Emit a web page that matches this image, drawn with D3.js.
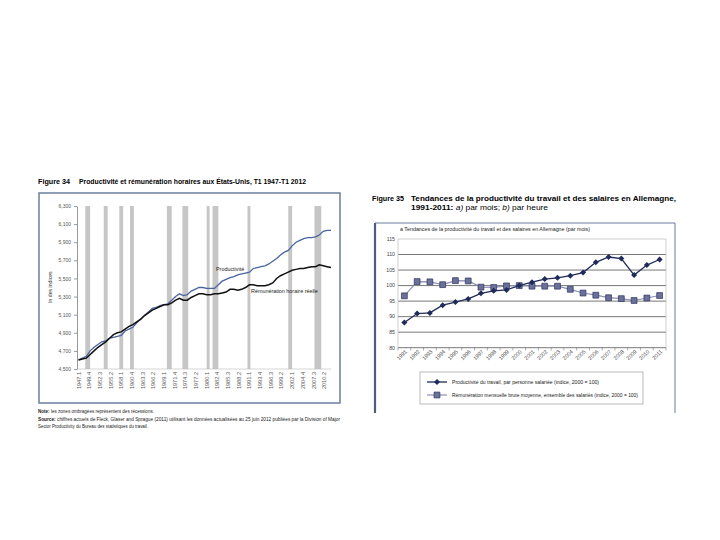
<!DOCTYPE html>
<html><head><meta charset="utf-8">
<script src="https://cdn.jsdelivr.net/npm/d3@7"></script>
<style>body{margin:0;background:#fff} svg{display:block} text{font-family:"Liberation Sans",Arial,sans-serif}</style>
</head><body><svg id="c" width="720" height="540"></svg>
<script>
// ---------- Figure 34 (États-Unis) ----------
const usYears = [1947,1948,1949,1950,1951,1952,1953,1954,1955,1956,1957,1958,1959,1960,1961,1962,1963,1964,1965,1966,1967,1968,1969,1970,1971,1972,1973,1974,1975,1976,1977,1978,1979,1980,1981,1982,1983,1984,1985,1986,1987,1988,1989,1990,1991,1992,1993,1994,1995,1996,1997,1998,1999,2000,2001,2002,2003,2004,2005,2006,2007,2008,2009,2010,2011,2012];
const usProductivity = [4.60,4.62,4.64,4.70,4.74,4.77,4.80,4.81,4.84,4.85,4.86,4.87,4.92,4.94,4.96,5.01,5.05,5.09,5.13,5.17,5.18,5.20,5.21,5.22,5.26,5.30,5.33,5.31,5.32,5.36,5.38,5.40,5.40,5.39,5.39,5.39,5.43,5.47,5.49,5.51,5.52,5.54,5.55,5.56,5.57,5.61,5.62,5.63,5.64,5.66,5.69,5.72,5.76,5.79,5.81,5.86,5.90,5.92,5.94,5.95,5.95,5.96,5.98,6.02,6.03,6.03];
const usCompensation = [4.60,4.61,4.62,4.66,4.70,4.74,4.77,4.80,4.84,4.88,4.90,4.91,4.94,4.97,4.99,5.02,5.05,5.09,5.12,5.15,5.17,5.19,5.21,5.21,5.23,5.26,5.28,5.26,5.26,5.29,5.31,5.33,5.33,5.32,5.32,5.33,5.33,5.34,5.35,5.38,5.38,5.37,5.38,5.40,5.43,5.43,5.42,5.42,5.42,5.43,5.45,5.50,5.53,5.55,5.57,5.59,5.60,5.61,5.61,5.62,5.63,5.63,5.65,5.64,5.63,5.62];
const usTickLabels = ["1947.1","1949.4","1952.3","1955.2","1958.1","1960.4","1963.3","1966.2","1969.1","1971.4","1974.3","1977.2","1980.1","1982.4","1985.3","1988.2","1991.1","1993.4","1996.3","1999.2","2002.1","2004.4","2007.3","2010.2"];
const usYTicks = [4.5,4.7,4.9,5.1,5.3,5.5,5.7,5.9,6.1,6.3];
const usRecessionStart = ["1948.4","1953.3","1957.3","1960.2","1969.4","1973.4","1980.1","1981.3","1990.3","2001.1","2007.4"];
const usRecessionEnd   = ["1949.4","1954.2","1958.2","1961.1","1970.4","1975.1","1980.3","1982.4","1991.1","2001.4","2009.2"];

// ---------- Figure 35 (Allemagne) ----------
const deYears = ["1991","1992","1993","1994","1995","1996","1997","1998","1999","2000","2001","2002","2003","2004","2005","2006","2007","2008","2009","2010","2011"];
const deProductivity = [88.1,91.0,91.2,93.7,94.7,95.7,97.5,98.3,98.6,100.0,101.1,102.1,102.5,103.2,104.2,107.5,109.2,108.7,103.4,106.6,108.4];
const deWages = [96.7,101.3,101.2,100.3,101.6,101.5,99.5,99.4,99.9,100.0,99.8,99.8,99.8,98.8,97.6,96.9,96.1,95.8,95.2,96.0,96.8];
const deYTicks = [80,85,90,95,100,105,110,115];

const svg = d3.select("#c");
const qToNum = s => { const [y,q] = s.split(".").map(Number); return y + (q-1)/4; };
const frFmt = d => d3.format(".3f")(d).replace(".", ",");

// ===== LEFT PANEL =====
const L = svg.append("g");
L.append("text").attr("x",38).attr("y",184).attr("font-size",7.2).attr("font-weight","bold").text("Figure 34");
L.append("text").attr("x",79).attr("y",184).attr("font-size",7.2).attr("font-weight","bold")
 .attr("textLength",227).attr("lengthAdjust","spacingAndGlyphs")
 .text("Productivité et rémunération horaires aux États-Unis, T1 1947-T1 2012");
L.append("rect").attr("x",39).attr("y",193).attr("width",301).attr("height",210)
 .attr("fill","none").attr("stroke","#7486a4").attr("stroke-width",1.6);

const xL = d3.scaleLinear().domain([1947,2012]).range([78.5,331]);
const yL = d3.scaleLinear().domain([4.5,6.3]).range([369,206]);

L.append("g").selectAll("rect").data(usRecessionStart).join("rect")
 .attr("x",(d)=>xL(qToNum(d)))
 .attr("width",(d,i)=>Math.max(1.5, xL(qToNum(usRecessionEnd[i])+0.25)-xL(qToNum(d))))
 .attr("y",yL(6.3)).attr("height",yL(4.5)-yL(6.3)).attr("fill","#c6c6c6");

const axL = L.append("g").attr("transform","translate(77,0)")
 .call(d3.axisLeft(yL).tickValues(usYTicks).tickFormat(frFmt).tickSize(3).tickSizeOuter(0));
axL.select(".domain").attr("stroke","#999");
axL.selectAll(".tick line").attr("stroke","#999");
axL.selectAll("text").attr("font-size",5).attr("fill","#555").attr("font-family","Liberation Sans, Arial, sans-serif");

L.append("line").attr("x1",77).attr("x2",331).attr("y1",369).attr("y2",369).attr("stroke","#bbb").attr("stroke-width",0.6);

L.append("g").selectAll("text").data(usTickLabels).join("text")
 .attr("transform",d=>`translate(${xL(qToNum(d))+2},372) rotate(-90)`)
 .attr("text-anchor","end").attr("font-size",5.6).attr("fill","#555").text(d=>d);

L.append("text").attr("transform","translate(52,287) rotate(-90)").attr("text-anchor","middle")
 .attr("font-size",5.2).attr("fill","#333").text("ln des indices");

const lineL = arr => d3.line().x((d,i)=>xL(usYears[i])).y(d=>yL(d))(arr);
L.append("path").attr("d",lineL(usProductivity)).attr("fill","none").attr("stroke","#4a64a0").attr("stroke-width",1.3);
L.append("path").attr("d",lineL(usCompensation)).attr("fill","none").attr("stroke","#111").attr("stroke-width",1.5);

L.append("text").attr("x",216).attr("y",271).attr("font-size",5.4).attr("fill","#222").text("Productivité");
L.append("text").attr("x",251).attr("y",293).attr("font-size",5.4).attr("fill","#222").text("Rémunération horaire réelle");

const notes = L.append("g").attr("font-size",4.6).attr("fill","#222");
const n1 = notes.append("text").attr("x",38).attr("y",413).attr("textLength",116).attr("lengthAdjust","spacingAndGlyphs");
n1.append("tspan").attr("font-weight","bold").text("Note: ");
n1.append("tspan").text("les zones ombragées représentent des récessions.");
const n2 = notes.append("text").attr("x",38).attr("y",421).attr("textLength",302).attr("lengthAdjust","spacingAndGlyphs");
n2.append("tspan").attr("font-weight","bold").text("Source: ");
n2.append("tspan").text("chiffres actuels de Fleck, Glaser and Sprague (2011) utilisant les données actualisées au 25 juin 2012 publiées par la Division of Major");
notes.append("text").attr("x",38).attr("y",428).attr("textLength",110).attr("lengthAdjust","spacingAndGlyphs")
 .text("Sector Productivity du Bureau des statistiques du travail.");

// ===== RIGHT PANEL =====
const R = svg.append("g");
R.append("text").attr("x",372).attr("y",201).attr("font-size",7.2).attr("font-weight","bold").text("Figure 35");
R.append("text").attr("x",411).attr("y",201).attr("font-size",7.2).attr("font-weight","bold")
 .attr("textLength",265).attr("lengthAdjust","spacingAndGlyphs")
 .text("Tendances de la productivité du travail et des salaires en Allemagne,");
const t2 = R.append("text").attr("x",411).attr("y",210).attr("font-size",7.2)
 .attr("textLength",137).attr("lengthAdjust","spacingAndGlyphs");
t2.append("tspan").attr("font-weight","bold").text("1991-2011: ");
t2.append("tspan").attr("font-style","italic").text("a)");
t2.append("tspan").text(" par mois; ");
t2.append("tspan").attr("font-style","italic").text("b)");
t2.append("tspan").text(" par heure");

R.append("path").attr("d","M375,223 H675 V413").attr("fill","none").attr("stroke","#6d7d9b").attr("stroke-width",1);
R.append("line").attr("x1",375).attr("x2",375).attr("y1",223).attr("y2",413).attr("stroke","#4e5e80").attr("stroke-width",2.2);

R.append("text").attr("x",400).attr("y",231).attr("font-size",4.8).attr("fill","#222")
 .attr("textLength",190).attr("lengthAdjust","spacingAndGlyphs")
 .text("a Tendances de la productivité du travail et des salaires en Allemagne (par mois)");

const xR = d3.scaleBand().domain(deYears).range([398,666]);
const yR = d3.scaleLinear().domain([80,115]).range([347.7,239]);
const cx = d => xR(d) + xR.bandwidth()/2;

R.append("g").selectAll("line").data(deYTicks).join("line")
 .attr("x1",398).attr("x2",666).attr("y1",d=>yR(d)).attr("y2",d=>yR(d))
 .attr("stroke",d=>d===115?"#bbb":"#555").attr("stroke-width",d=>d===115?0.7:0.8);
R.append("line").attr("x1",398).attr("x2",398).attr("y1",239).attr("y2",347.7).attr("stroke","#bbb").attr("stroke-width",0.7);
R.append("line").attr("x1",666).attr("x2",666).attr("y1",239).attr("y2",347.7).attr("stroke","#bbb").attr("stroke-width",0.7);

R.append("g").selectAll("text").data(deYTicks).join("text")
 .attr("x",395).attr("y",d=>yR(d)+1.8).attr("text-anchor","end").attr("font-size",5.2).attr("fill","#444").text(d=>d);

R.append("g").selectAll("line").data(deYears.concat(["end"])).join("line")
 .attr("x1",(d,i)=>398+i*xR.bandwidth()).attr("x2",(d,i)=>398+i*xR.bandwidth())
 .attr("y1",347.7).attr("y2",350.5).attr("stroke","#777").attr("stroke-width",0.6);

R.append("g").selectAll("text").data(deYears).join("text")
 .attr("transform",d=>`translate(${cx(d)+3},352) rotate(-45)`)
 .attr("text-anchor","end").attr("font-size",5.4).attr("fill","#444").text(d=>d);

const lineR = arr => d3.line().x((d,i)=>cx(deYears[i])).y(d=>yR(d))(arr);
R.append("path").attr("d",lineR(deWages)).attr("fill","none").attr("stroke","#8a90b2").attr("stroke-width",1.2);
R.append("g").selectAll("path").data(deWages).join("path")
 .attr("d",d3.symbol(d3.symbolSquare,34)())
 .attr("transform",(d,i)=>`translate(${cx(deYears[i])},${yR(d)})`)
 .attr("fill","#6b7199").attr("stroke","#2c3260").attr("stroke-width",0.7);
R.append("path").attr("d",lineR(deProductivity)).attr("fill","none").attr("stroke","#1f2b5a").attr("stroke-width",1.3);
R.append("g").selectAll("path").data(deProductivity).join("path")
 .attr("d",d3.symbol(d3.symbolSquare,18)())
 .attr("transform",(d,i)=>`translate(${cx(deYears[i])},${yR(d)}) rotate(45)`)
 .attr("fill","#1f2b5a");

// legend
const lg = R.append("g");
lg.append("rect").attr("x",420).attr("y",372).attr("width",223).attr("height",32)
 .attr("fill","none").attr("stroke","#9a9a9a").attr("stroke-width",0.7);
lg.append("line").attr("x1",427).attr("x2",447).attr("y1",382).attr("y2",382).attr("stroke","#1f2b5a").attr("stroke-width",1.3);
lg.append("path").attr("d",d3.symbol(d3.symbolSquare,18)()).attr("transform","translate(437,382) rotate(45)").attr("fill","#1f2b5a");
lg.append("line").attr("x1",427).attr("x2",447).attr("y1",395).attr("y2",395).attr("stroke","#8a90b2").attr("stroke-width",1.2);
lg.append("path").attr("d",d3.symbol(d3.symbolSquare,34)()).attr("transform","translate(437,395)").attr("fill","#6b7199").attr("stroke","#2c3260").attr("stroke-width",0.7);
lg.append("text").attr("x",452).attr("y",384).attr("font-size",4.8).attr("fill","#222")
 .attr("textLength",147).attr("lengthAdjust","spacingAndGlyphs")
 .text("Productivité du travail, par personne salariée (indice, 2000 = 100)");
lg.append("text").attr("x",452).attr("y",397).attr("font-size",4.8).attr("fill","#222")
 .attr("textLength",186).attr("lengthAdjust","spacingAndGlyphs")
 .text("Rémunération mensuelle brute moyenne, ensemble des salariés (indice, 2000 = 100)");
</script></body></html>
